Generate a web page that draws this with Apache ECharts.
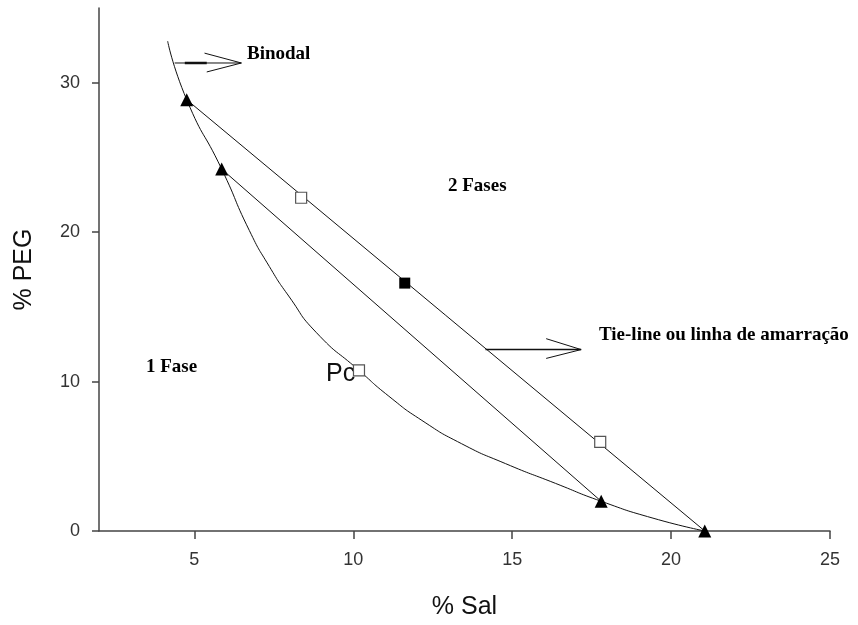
<!DOCTYPE html>
<html>
<head>
<meta charset="utf-8">
<script src="https://cdn.jsdelivr.net/npm/echarts@6/dist/echarts.min.js"></script>
<style>
    html, body { margin: 0; padding: 0; background: #fff; }
    #main { width: 858px; height: 625px; }
</style>
</head>
<body>
<div id="main"></div>
<script>
// curva binodal (% Sal, % PEG)
var binodal = [
    [4.16, 32.78], [4.76, 28.86], [5.86, 24.22], [6.73, 20.11], [7.36, 17.70],
    [7.99, 15.66], [8.83, 13.30], [10.18, 10.75], [11.12, 9.02], [12.16, 7.40],
    [13.41, 5.84], [14.79, 4.51], [16.36, 3.19], [17.80, 1.99], [19.43, 0.86],
    [21.06, 0]
];
// linhas de amarração
var tieLine1 = [[4.76, 28.86], [21.06, 0]];
var tieLine2 = [[5.86, 24.22], [17.80, 1.99]];
// pontos
var triangulos = [[4.76, 28.86], [5.86, 24.22], [17.80, 1.99], [21.06, 0]];
var quadAbertos = [[8.36, 22.30], [10.18, 10.75], [17.77, 5.97]];
var quadCheio = [[11.62, 16.59]];
// setas (anotações)
var setaBinodal = [[4.38, 31.32], [6.48, 31.32]];
var setaBinodalGrossa = [[4.70, 31.32], [5.39, 31.32]];
var pontaBinodal = [[5.32, 31.98], [6.48, 31.32], [5.39, 30.72]];
var setaTie = [[14.16, 12.14], [17.17, 12.14]];
var pontaTie = [[16.07, 12.87], [17.17, 12.14], [16.07, 11.55]];
// rótulos dos eixos
var xTicks = [5, 10, 15, 20, 25];
var yTicks = [0, 10, 20, 30];

var chart = echarts.init(document.getElementById('main'));

function linha(data, width) {
    return {
        type: 'line',
        data: data,
        symbol: 'none',
        silent: true,
        lineStyle: { color: '#111', width: width || 1 },
        z: 2
    };
}

var fonteSerif = 'bold 19px "Liberation Serif"';

var option = {
    animation: false,
    backgroundColor: '#fff',
    grid: { left: 99, right: 28, top: 8, bottom: 92 },
    xAxis: {
        type: 'value',
        min: 2,
        max: 25,
        name: '% Sal',
        nameLocation: 'middle',
        nameGap: 64,
        nameTextStyle: { fontFamily: 'Liberation Sans', fontSize: 25, color: '#111' },
        axisLine: { onZero: false, lineStyle: { color: '#444', width: 1.5 } },
        axisTick: { customValues: xTicks, length: 8, lineStyle: { color: '#444', width: 1.5 } },
        axisLabel: { customValues: xTicks, margin: 20, fontFamily: 'Liberation Sans', fontSize: 18, color: '#333' },
        splitLine: { show: false }
    },
    yAxis: {
        type: 'value',
        min: 0,
        max: 35,
        name: '% PEG',
        nameLocation: 'middle',
        nameGap: 62,
        nameRotate: 90,
        nameTextStyle: { fontFamily: 'Liberation Sans', fontSize: 25, color: '#111' },
        axisLine: { show: true, lineStyle: { color: '#444', width: 1.5 } },
        axisTick: { customValues: yTicks, length: 7, lineStyle: { color: '#444', width: 1.5 } },
        axisLabel: { customValues: yTicks, margin: 19, fontFamily: 'Liberation Sans', fontSize: 18, color: '#333' },
        splitLine: { show: false }
    },
    series: [
        Object.assign(linha(binodal), { smooth: 0.6 }),
        linha(tieLine1),
        linha(tieLine2),
        linha(setaBinodal),
        linha(setaBinodalGrossa, 2.5),
        linha(pontaBinodal),
        linha(setaTie, 1.5),
        linha(pontaTie),
        {
            type: 'scatter',
            data: triangulos,
            symbol: 'triangle',
            symbolSize: 13,
            itemStyle: { color: '#000', opacity: 1 },
            z: 5
        },
        {
            type: 'scatter',
            data: quadAbertos,
            symbol: 'rect',
            symbolSize: 11,
            itemStyle: { color: '#fff', borderColor: '#555', borderWidth: 1.2, opacity: 1 },
            z: 5
        },
        {
            type: 'scatter',
            data: quadCheio,
            symbol: 'rect',
            symbolSize: 11,
            itemStyle: { color: '#000', opacity: 1 },
            z: 5
        }
    ],
    graphic: [
        { type: 'text', left: 247, top: 45, style: { text: 'Binodal', font: fonteSerif, fill: '#000' } },
        { type: 'text', left: 448, top: 177, style: { text: '2 Fases', font: fonteSerif, fill: '#000' } },
        { type: 'text', left: 599, top: 326, style: { text: 'Tie-line ou linha de amarração', font: fonteSerif, fill: '#000' } },
        { type: 'text', left: 146, top: 358, style: { text: '1 Fase', font: fonteSerif, fill: '#000' } },
        { type: 'text', left: 326, top: 362, style: { text: 'Pc', font: '25px "Liberation Sans"', fill: '#111' } }
    ]
};

chart.setOption(option);
</script>
</body>
</html>
